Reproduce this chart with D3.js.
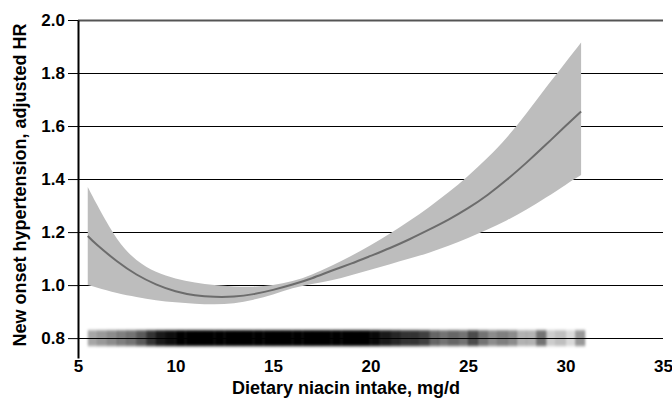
<!DOCTYPE html>
<html>
<head>
<meta charset="utf-8">
<script src="https://cdn.jsdelivr.net/npm/d3@7"></script>
<style>
  body { margin: 0; background: #fff; }
  text { font-family: "Liberation Sans", Arial, sans-serif; font-weight: bold; }
</style>
</head>
<body>
<div id="chart"></div>
<script>
// spline estimate
const niacin  = [5.5, 6, 7, 8, 9, 10, 11, 12, 13, 14, 15, 16, 17, 18, 19, 20, 21, 22, 23, 24, 25, 26, 27, 28, 29, 30, 30.8];
const hr      = [1.185, 1.150, 1.090, 1.040, 1.003, 0.977, 0.962, 0.956, 0.957, 0.966, 0.982, 1.002, 1.026, 1.054, 1.081, 1.110, 1.140, 1.173, 1.209, 1.247, 1.290, 1.340, 1.398, 1.462, 1.530, 1.600, 1.655];
const hrLower = [1.000, 0.990, 0.970, 0.955, 0.943, 0.935, 0.930, 0.928, 0.932, 0.945, 0.965, 0.988, 1.004, 1.018, 1.037, 1.058, 1.079, 1.100, 1.122, 1.148, 1.178, 1.210, 1.245, 1.285, 1.330, 1.378, 1.415];
const hrUpper = [1.370, 1.300, 1.175, 1.095, 1.050, 1.025, 1.010, 1.000, 0.995, 0.994, 1.000, 1.015, 1.040, 1.073, 1.110, 1.150, 1.195, 1.243, 1.294, 1.350, 1.412, 1.480, 1.558, 1.648, 1.745, 1.840, 1.915];

// rug of intake values: start of each 0.5 mg/d bin and how dark it prints
const rugStart = [5.5, 6, 6.5, 7, 7.5, 8, 8.5, 9, 9.5, 10, 10.5, 11, 11.5, 12, 12.5, 13, 13.5, 14, 14.5, 15, 15.5, 16, 16.5, 17, 17.5, 18, 18.5, 19, 19.5,
                  20, 20.5, 21, 21.5, 22, 22.5, 23, 23.5, 24, 24.5, 25, 25.5, 26, 26.5, 27, 27.5, 28, 28.5, 29, 29.5, 30, 30.5];
const rugShade = [0.35, 0.4, 0.45, 0.5, 0.55, 0.65, 0.8, 0.9, 0.95, 1, 1, 1, 1, 1, 1, 1, 1, 1, 1, 1, 1, 1, 1, 1, 1, 1, 1, 1, 1,
                  0.97, 0.9, 0.85, 0.8, 0.8, 0.75, 0.6, 0.55, 0.6, 0.55, 0.7, 0.55, 0.45, 0.5, 0.45, 0.3, 0.3, 0.55, 0.2, 0.25, 0.15, 0.4];

const xTicks = [5, 10, 15, 20, 25, 30, 35];
const yTicks = [0.8, 1.0, 1.2, 1.4, 1.6, 1.8, 2.0];

const width = 672, height = 403;

const svg = d3.select("#chart").append("svg")
    .attr("width", width)
    .attr("height", height);

const x = d3.scaleLinear().domain([5, 35]).range([78, 663]);
const y = d3.scaleLinear().domain([0.725, 2.0]).range([358, 20]);

const rows = niacin.map((v, i) => ({x: v, hr: hr[i], lo: hrLower[i], hi: hrUpper[i]}));

// blur for the rug strip
svg.append("defs").append("filter")
    .attr("id", "soft")
    .attr("x", "-5%").attr("width", "110%")
    .attr("y", "-50%").attr("height", "200%")
  .append("feGaussianBlur")
    .attr("stdDeviation", "1.1 1.4");

// horizontal gridlines
svg.append("g").attr("class", "grid")
  .selectAll("line")
  .data(yTicks)
  .join("line")
    .attr("x1", x(5))
    .attr("x2", x(35))
    .attr("y1", d => Math.round(y(d)) + 0.5)
    .attr("y2", d => Math.round(y(d)) + 0.5)
    .attr("stroke", d => d === 2.0 ? "#555" : "#000")
    .attr("stroke-width", d => d === 2.0 ? 2 : 1);

// confidence band
const band = d3.area()
    .x(d => x(d.x))
    .y0(d => y(d.lo))
    .y1(d => y(d.hi))
    .curve(d3.curveNatural);

svg.append("path")
    .datum(rows)
    .attr("d", band)
    .attr("fill", "#bdbdbd");

// fitted HR
const line = d3.line()
    .x(d => x(d.x))
    .y(d => y(d.hr))
    .curve(d3.curveNatural);

svg.append("path")
    .datum(rows)
    .attr("d", line)
    .attr("fill", "none")
    .attr("stroke", "#6c6c6c")
    .attr("stroke-width", 2);

// rug at HR 0.8
svg.append("g")
    .attr("filter", "url(#soft)")
  .selectAll("rect")
  .data(rugStart)
  .join("rect")
    .attr("x", d => x(d))
    .attr("width", d => x(d + 0.5) - x(d) + 0.3)
    .attr("y", y(0.8) - 8)
    .attr("height", 16)
    .attr("fill", "#000")
    .attr("fill-opacity", (d, i) => rugShade[i]);

// y axis
const yAxis = svg.append("g")
    .attr("transform", "translate(" + x(5) + ",0)")
    .call(d3.axisLeft(y).tickValues(yTicks).tickFormat(d3.format(".1f")).tickSize(10).tickSizeOuter(0).tickPadding(3));

yAxis.select(".domain")
    .attr("stroke", "#000")
    .attr("stroke-width", 2);
yAxis.selectAll(".tick line").attr("stroke", "#000");
yAxis.selectAll("text")
    .attr("fill", "#000")
    .style("font-size", "17px");

// x axis: labels only
const xAxis = svg.append("g")
    .attr("transform", "translate(0,357)")
    .call(d3.axisBottom(x).tickValues(xTicks).tickSize(0).tickPadding(3));

xAxis.select(".domain").remove();
xAxis.selectAll("text")
    .attr("fill", "#000")
    .style("font-size", "17px");

// axis titles
svg.append("text")
    .attr("x", 346)
    .attr("y", 394)
    .attr("text-anchor", "middle")
    .style("font-size", "18px")
    .text("Dietary niacin intake, mg/d");

svg.append("text")
    .attr("transform", "translate(26,185) rotate(-90)")
    .attr("text-anchor", "middle")
    .style("font-size", "18px")
    .text("New onset hypertension, adjusted HR");
</script>
</body>
</html>
